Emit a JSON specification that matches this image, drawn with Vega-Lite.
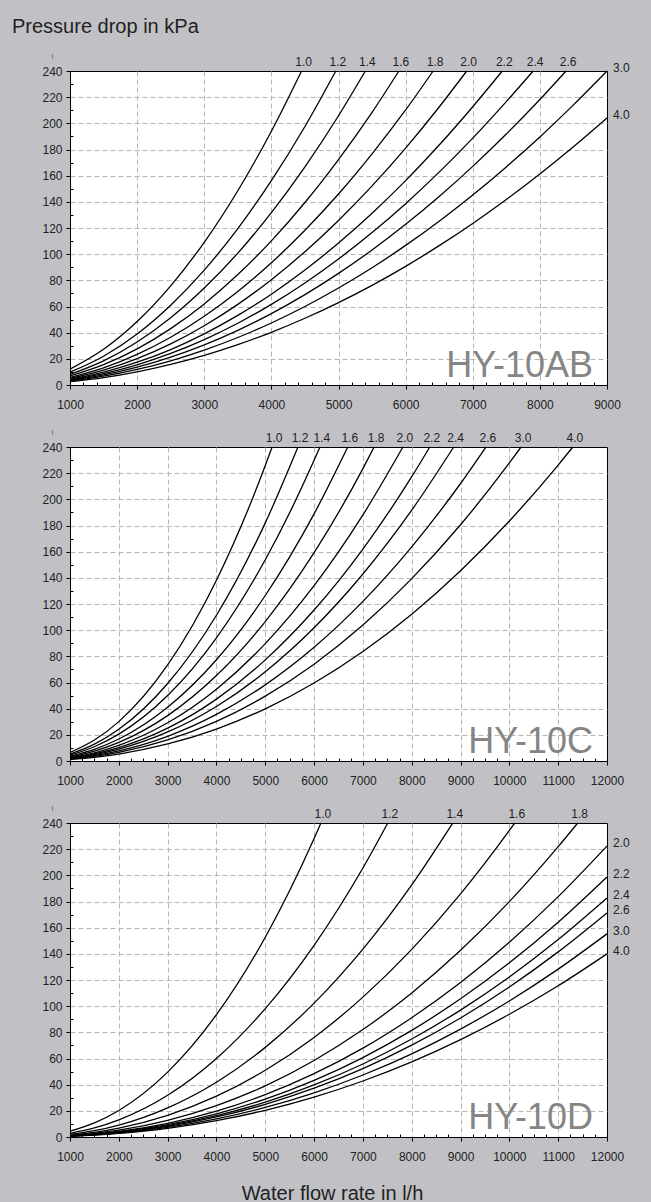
{
"$schema": "https://vega.github.io/schema/vega-lite/v6.json",
"background": "#c1c1c5",
"padding": {"left": 12, "top": 16, "right": 30, "bottom": 10},
"bounds": "flush",
"spacing": 62,
"title": {"text": "Pressure drop in kPa", "anchor": "start", "frame": "group", "dx": -58, "offset": 15, "fontSize": 20, "fontWeight": "normal", "font": "Liberation Sans", "color": "#222"},
"config": {
  "font": "Liberation Sans",
  "view": {"fill": "white", "stroke": "#000", "strokeWidth": 1},
  "axis": {"labelFont": "Liberation Sans", "labelFontSize": 12, "labelColor": "#222", "domainColor": "#000", "tickColor": "#000", "gridColor": "#b5b5b5", "gridDash": [5, 3], "labelOverlap": false, "labelFlush": false},
  "axisX": {"labelPadding": 10},
  "axisY": {"labelPadding": 4, "title": "|", "titleAngle": 0, "titleFontSize": 6, "titleFontWeight": "normal", "titleColor": "#333", "titleX": -18, "titleY": -13, "titleAlign": "center", "titleBaseline": "bottom"}
},
"datasets": {
"ab": [
{"s":"1.0","q":1000,"dp":12.1},{"s":"1.0","q":1500,"dp":27.3},{"s":"1.0","q":2000,"dp":48.5},{"s":"1.0","q":2500,"dp":75.8},{"s":"1.0","q":3000,"dp":109.1},{"s":"1.0","q":3500,"dp":148.5},{"s":"1.0","q":4000,"dp":193.9},{"s":"1.0","q":4450,"dp":240},
{"s":"1.2","q":1000,"dp":9.8},{"s":"1.2","q":1500,"dp":22.0},{"s":"1.2","q":2000,"dp":39.0},{"s":"1.2","q":2500,"dp":61.0},{"s":"1.2","q":3000,"dp":87.8},{"s":"1.2","q":3500,"dp":119.6},{"s":"1.2","q":4000,"dp":156.2},{"s":"1.2","q":4500,"dp":197.6},{"s":"1.2","q":4960,"dp":240},
{"s":"1.4","q":1000,"dp":8.2},{"s":"1.4","q":1500,"dp":18.5},{"s":"1.4","q":2000,"dp":32.9},{"s":"1.4","q":2500,"dp":51.4},{"s":"1.4","q":3000,"dp":74.1},{"s":"1.4","q":3500,"dp":100.8},{"s":"1.4","q":4000,"dp":131.7},{"s":"1.4","q":4500,"dp":166.7},{"s":"1.4","q":5000,"dp":205.8},{"s":"1.4","q":5400,"dp":240},
{"s":"1.6","q":1000,"dp":6.9},{"s":"1.6","q":1500,"dp":15.5},{"s":"1.6","q":2000,"dp":27.6},{"s":"1.6","q":2500,"dp":43.1},{"s":"1.6","q":3000,"dp":62.0},{"s":"1.6","q":3500,"dp":84.4},{"s":"1.6","q":4000,"dp":110.2},{"s":"1.6","q":4500,"dp":139.5},{"s":"1.6","q":5000,"dp":172.3},{"s":"1.6","q":5500,"dp":208.4},{"s":"1.6","q":5900,"dp":240},
{"s":"1.8","q":1000,"dp":5.8},{"s":"1.8","q":1500,"dp":13.1},{"s":"1.8","q":2000,"dp":23.4},{"s":"1.8","q":2500,"dp":36.5},{"s":"1.8","q":3000,"dp":52.6},{"s":"1.8","q":3500,"dp":71.5},{"s":"1.8","q":4000,"dp":93.4},{"s":"1.8","q":4500,"dp":118.3},{"s":"1.8","q":5000,"dp":146.0},{"s":"1.8","q":5500,"dp":176.7},{"s":"1.8","q":6000,"dp":210.2},{"s":"1.8","q":6410,"dp":240},
{"s":"2.0","q":1000,"dp":5.0},{"s":"2.0","q":1500,"dp":11.3},{"s":"2.0","q":2000,"dp":20.1},{"s":"2.0","q":2500,"dp":31.4},{"s":"2.0","q":3000,"dp":45.3},{"s":"2.0","q":3500,"dp":61.6},{"s":"2.0","q":4000,"dp":80.5},{"s":"2.0","q":4500,"dp":101.9},{"s":"2.0","q":5000,"dp":125.8},{"s":"2.0","q":5500,"dp":152.2},{"s":"2.0","q":6000,"dp":181.1},{"s":"2.0","q":6500,"dp":212.5},{"s":"2.0","q":6910,"dp":240},
{"s":"2.2","q":1000,"dp":4.3},{"s":"2.2","q":1500,"dp":9.8},{"s":"2.2","q":2000,"dp":17.4},{"s":"2.2","q":2500,"dp":27.1},{"s":"2.2","q":3000,"dp":39.1},{"s":"2.2","q":3500,"dp":53.2},{"s":"2.2","q":4000,"dp":69.4},{"s":"2.2","q":4500,"dp":87.9},{"s":"2.2","q":5000,"dp":108.5},{"s":"2.2","q":5500,"dp":131.3},{"s":"2.2","q":6000,"dp":156.2},{"s":"2.2","q":6500,"dp":183.4},{"s":"2.2","q":7000,"dp":212.7},{"s":"2.2","q":7440,"dp":240},
{"s":"2.4","q":1000,"dp":3.9},{"s":"2.4","q":1500,"dp":8.7},{"s":"2.4","q":2000,"dp":15.4},{"s":"2.4","q":2500,"dp":24.1},{"s":"2.4","q":3000,"dp":34.7},{"s":"2.4","q":3500,"dp":47.2},{"s":"2.4","q":4000,"dp":61.6},{"s":"2.4","q":4500,"dp":78.0},{"s":"2.4","q":5000,"dp":96.3},{"s":"2.4","q":5500,"dp":116.5},{"s":"2.4","q":6000,"dp":138.6},{"s":"2.4","q":6500,"dp":162.7},{"s":"2.4","q":7000,"dp":188.7},{"s":"2.4","q":7500,"dp":216.6},{"s":"2.4","q":7900,"dp":240},
{"s":"2.6","q":1000,"dp":3.4},{"s":"2.6","q":1500,"dp":7.7},{"s":"2.6","q":2000,"dp":13.6},{"s":"2.6","q":2500,"dp":21.3},{"s":"2.6","q":3000,"dp":30.7},{"s":"2.6","q":3500,"dp":41.8},{"s":"2.6","q":4000,"dp":54.6},{"s":"2.6","q":4500,"dp":69.1},{"s":"2.6","q":5000,"dp":85.3},{"s":"2.6","q":5500,"dp":103.2},{"s":"2.6","q":6000,"dp":122.8},{"s":"2.6","q":6500,"dp":144.1},{"s":"2.6","q":7000,"dp":167.1},{"s":"2.6","q":7500,"dp":191.8},{"s":"2.6","q":8000,"dp":218.2},{"s":"2.6","q":8390,"dp":240},
{"s":"3.0","q":1000,"dp":3.0},{"s":"3.0","q":1500,"dp":6.7},{"s":"3.0","q":2000,"dp":11.9},{"s":"3.0","q":2500,"dp":18.5},{"s":"3.0","q":3000,"dp":26.7},{"s":"3.0","q":3500,"dp":36.3},{"s":"3.0","q":4000,"dp":47.4},{"s":"3.0","q":4500,"dp":60.0},{"s":"3.0","q":5000,"dp":74.1},{"s":"3.0","q":5500,"dp":89.6},{"s":"3.0","q":6000,"dp":106.7},{"s":"3.0","q":6500,"dp":125.2},{"s":"3.0","q":7000,"dp":145.2},{"s":"3.0","q":7500,"dp":166.7},{"s":"3.0","q":8000,"dp":189.6},{"s":"3.0","q":8500,"dp":214.1},{"s":"3.0","q":9000,"dp":240},
{"s":"4.0","q":1000,"dp":2.5},{"s":"4.0","q":1500,"dp":5.7},{"s":"4.0","q":2000,"dp":10.1},{"s":"4.0","q":2500,"dp":15.8},{"s":"4.0","q":3000,"dp":22.7},{"s":"4.0","q":3500,"dp":30.9},{"s":"4.0","q":4000,"dp":40.3},{"s":"4.0","q":4500,"dp":51.0},{"s":"4.0","q":5000,"dp":63.0},{"s":"4.0","q":5500,"dp":76.2},{"s":"4.0","q":6000,"dp":90.7},{"s":"4.0","q":6500,"dp":106.5},{"s":"4.0","q":7000,"dp":123.5},{"s":"4.0","q":7500,"dp":141.8},{"s":"4.0","q":8000,"dp":161.3},{"s":"4.0","q":8500,"dp":182.1},{"s":"4.0","q":9000,"dp":204.1}
],
"c": [
{"s":"1.0","q":1000,"dp":6.5},{"s":"1.0","q":1500,"dp":16.0},{"s":"1.0","q":2000,"dp":30.1},{"s":"1.0","q":3000,"dp":73.4},{"s":"1.0","q":4000,"dp":138.2},{"s":"1.0","q":5000,"dp":225.8},{"s":"1.0","q":5140,"dp":240},
{"s":"1.2","q":1000,"dp":5.3},{"s":"1.2","q":1500,"dp":12.9},{"s":"1.2","q":2000,"dp":24.2},{"s":"1.2","q":3000,"dp":59.2},{"s":"1.2","q":4000,"dp":111.4},{"s":"1.2","q":5000,"dp":182.0},{"s":"1.2","q":5670,"dp":240},
{"s":"1.4","q":1000,"dp":4.5},{"s":"1.4","q":1500,"dp":10.9},{"s":"1.4","q":2000,"dp":20.5},{"s":"1.4","q":3000,"dp":50.0},{"s":"1.4","q":4000,"dp":94.2},{"s":"1.4","q":5000,"dp":153.8},{"s":"1.4","q":6000,"dp":229.8},{"s":"1.4","q":6120,"dp":240},
{"s":"1.6","q":1000,"dp":3.7},{"s":"1.6","q":1500,"dp":8.9},{"s":"1.6","q":2000,"dp":16.8},{"s":"1.6","q":3000,"dp":41.1},{"s":"1.6","q":4000,"dp":77.4},{"s":"1.6","q":5000,"dp":126.5},{"s":"1.6","q":6000,"dp":188.9},{"s":"1.6","q":6690,"dp":240},
{"s":"1.8","q":1000,"dp":3.1},{"s":"1.8","q":1500,"dp":7.5},{"s":"1.8","q":2000,"dp":14.2},{"s":"1.8","q":3000,"dp":34.7},{"s":"1.8","q":4000,"dp":65.3},{"s":"1.8","q":5000,"dp":106.6},{"s":"1.8","q":6000,"dp":159.2},{"s":"1.8","q":7000,"dp":223.5},{"s":"1.8","q":7230,"dp":240},
{"s":"2.0","q":1000,"dp":2.6},{"s":"2.0","q":1500,"dp":6.3},{"s":"2.0","q":2000,"dp":12.0},{"s":"2.0","q":3000,"dp":29.2},{"s":"2.0","q":4000,"dp":54.9},{"s":"2.0","q":5000,"dp":89.7},{"s":"2.0","q":6000,"dp":134.0},{"s":"2.0","q":7000,"dp":188.1},{"s":"2.0","q":7820,"dp":240},
{"s":"2.2","q":1000,"dp":2.2},{"s":"2.2","q":1500,"dp":5.5},{"s":"2.2","q":2000,"dp":10.3},{"s":"2.2","q":3000,"dp":25.1},{"s":"2.2","q":4000,"dp":47.3},{"s":"2.2","q":5000,"dp":77.3},{"s":"2.2","q":6000,"dp":115.4},{"s":"2.2","q":7000,"dp":162.0},{"s":"2.2","q":8000,"dp":217.3},{"s":"2.2","q":8370,"dp":240},
{"s":"2.4","q":1000,"dp":2.0},{"s":"2.4","q":1500,"dp":4.8},{"s":"2.4","q":2000,"dp":9.1},{"s":"2.4","q":3000,"dp":22.2},{"s":"2.4","q":4000,"dp":41.7},{"s":"2.4","q":5000,"dp":68.2},{"s":"2.4","q":6000,"dp":101.8},{"s":"2.4","q":7000,"dp":142.9},{"s":"2.4","q":8000,"dp":191.7},{"s":"2.4","q":8860,"dp":240},
{"s":"2.6","q":1000,"dp":1.7},{"s":"2.6","q":1500,"dp":4.1},{"s":"2.6","q":2000,"dp":7.8},{"s":"2.6","q":3000,"dp":18.9},{"s":"2.6","q":4000,"dp":35.6},{"s":"2.6","q":5000,"dp":58.2},{"s":"2.6","q":6000,"dp":86.9},{"s":"2.6","q":7000,"dp":122.0},{"s":"2.6","q":8000,"dp":163.7},{"s":"2.6","q":9000,"dp":212.1},{"s":"2.6","q":9520,"dp":240},
{"s":"3.0","q":1000,"dp":1.4},{"s":"3.0","q":1500,"dp":3.5},{"s":"3.0","q":2000,"dp":6.6},{"s":"3.0","q":3000,"dp":16.1},{"s":"3.0","q":4000,"dp":30.3},{"s":"3.0","q":5000,"dp":49.6},{"s":"3.0","q":6000,"dp":74.0},{"s":"3.0","q":7000,"dp":103.9},{"s":"3.0","q":8000,"dp":139.4},{"s":"3.0","q":9000,"dp":180.6},{"s":"3.0","q":10000,"dp":227.8},{"s":"3.0","q":10240,"dp":240},
{"s":"4.0","q":1000,"dp":1.2},{"s":"4.0","q":1500,"dp":2.8},{"s":"4.0","q":2000,"dp":5.3},{"s":"4.0","q":3000,"dp":13.0},{"s":"4.0","q":4000,"dp":24.4},{"s":"4.0","q":5000,"dp":39.9},{"s":"4.0","q":6000,"dp":59.6},{"s":"4.0","q":7000,"dp":83.7},{"s":"4.0","q":8000,"dp":112.2},{"s":"4.0","q":9000,"dp":145.4},{"s":"4.0","q":10000,"dp":183.4},{"s":"4.0","q":11000,"dp":226.2},{"s":"4.0","q":11300,"dp":240}
],
"d": [
{"s":"1.0","q":1000,"dp":4.4},{"s":"1.0","q":1500,"dp":10.8},{"s":"1.0","q":2000,"dp":20.3},{"s":"1.0","q":3000,"dp":49.6},{"s":"1.0","q":4000,"dp":93.5},{"s":"1.0","q":5000,"dp":152.7},{"s":"1.0","q":6000,"dp":228.1},{"s":"1.0","q":6140,"dp":240},
{"s":"1.2","q":1000,"dp":2.8},{"s":"1.2","q":1500,"dp":6.9},{"s":"1.2","q":2000,"dp":13.1},{"s":"1.2","q":3000,"dp":31.9},{"s":"1.2","q":4000,"dp":60.0},{"s":"1.2","q":5000,"dp":98.1},{"s":"1.2","q":6000,"dp":146.5},{"s":"1.2","q":7000,"dp":205.6},{"s":"1.2","q":7510,"dp":240},
{"s":"1.4","q":1000,"dp":2.0},{"s":"1.4","q":1500,"dp":4.8},{"s":"1.4","q":2000,"dp":9.1},{"s":"1.4","q":3000,"dp":22.3},{"s":"1.4","q":4000,"dp":41.9},{"s":"1.4","q":5000,"dp":68.5},{"s":"1.4","q":6000,"dp":102.3},{"s":"1.4","q":7000,"dp":143.6},{"s":"1.4","q":8000,"dp":192.7},{"s":"1.4","q":8840,"dp":240},
{"s":"1.6","q":1000,"dp":1.5},{"s":"1.6","q":1500,"dp":3.6},{"s":"1.6","q":2000,"dp":6.8},{"s":"1.6","q":3000,"dp":16.6},{"s":"1.6","q":4000,"dp":31.2},{"s":"1.6","q":5000,"dp":51.0},{"s":"1.6","q":6000,"dp":76.1},{"s":"1.6","q":7000,"dp":106.9},{"s":"1.6","q":8000,"dp":143.4},{"s":"1.6","q":9000,"dp":185.8},{"s":"1.6","q":10000,"dp":234.3},{"s":"1.6","q":10110,"dp":240},
{"s":"1.8","q":1000,"dp":1.1},{"s":"1.8","q":1500,"dp":2.8},{"s":"1.8","q":2000,"dp":5.2},{"s":"1.8","q":3000,"dp":12.7},{"s":"1.8","q":4000,"dp":24.0},{"s":"1.8","q":5000,"dp":39.1},{"s":"1.8","q":6000,"dp":58.5},{"s":"1.8","q":7000,"dp":82.1},{"s":"1.8","q":8000,"dp":110.1},{"s":"1.8","q":9000,"dp":142.7},{"s":"1.8","q":10000,"dp":179.9},{"s":"1.8","q":11000,"dp":221.9},{"s":"1.8","q":11400,"dp":240},
{"s":"2.0","q":1000,"dp":0.9},{"s":"2.0","q":1500,"dp":2.3},{"s":"2.0","q":2000,"dp":4.3},{"s":"2.0","q":3000,"dp":10.5},{"s":"2.0","q":4000,"dp":19.8},{"s":"2.0","q":5000,"dp":32.4},{"s":"2.0","q":6000,"dp":48.4},{"s":"2.0","q":7000,"dp":67.9},{"s":"2.0","q":8000,"dp":91.2},{"s":"2.0","q":9000,"dp":118.1},{"s":"2.0","q":10000,"dp":148.9},{"s":"2.0","q":11000,"dp":183.7},{"s":"2.0","q":12000,"dp":222.4},
{"s":"2.2","q":1000,"dp":0.8},{"s":"2.2","q":1500,"dp":2.0},{"s":"2.2","q":2000,"dp":3.9},{"s":"2.2","q":3000,"dp":9.4},{"s":"2.2","q":4000,"dp":17.7},{"s":"2.2","q":5000,"dp":29.0},{"s":"2.2","q":6000,"dp":43.3},{"s":"2.2","q":7000,"dp":60.7},{"s":"2.2","q":8000,"dp":81.5},{"s":"2.2","q":9000,"dp":105.6},{"s":"2.2","q":10000,"dp":133.1},{"s":"2.2","q":11000,"dp":164.2},{"s":"2.2","q":12000,"dp":198.8},
{"s":"2.4","q":1000,"dp":0.8},{"s":"2.4","q":1500,"dp":1.9},{"s":"2.4","q":2000,"dp":3.5},{"s":"2.4","q":3000,"dp":8.7},{"s":"2.4","q":4000,"dp":16.3},{"s":"2.4","q":5000,"dp":26.6},{"s":"2.4","q":6000,"dp":39.8},{"s":"2.4","q":7000,"dp":55.8},{"s":"2.4","q":8000,"dp":74.9},{"s":"2.4","q":9000,"dp":97.0},{"s":"2.4","q":10000,"dp":122.3},{"s":"2.4","q":11000,"dp":150.9},{"s":"2.4","q":12000,"dp":182.7},
{"s":"2.6","q":1000,"dp":0.7},{"s":"2.6","q":1500,"dp":1.8},{"s":"2.6","q":2000,"dp":3.3},{"s":"2.6","q":3000,"dp":8.1},{"s":"2.6","q":4000,"dp":15.3},{"s":"2.6","q":5000,"dp":25.0},{"s":"2.6","q":6000,"dp":37.3},{"s":"2.6","q":7000,"dp":52.3},{"s":"2.6","q":8000,"dp":70.2},{"s":"2.6","q":9000,"dp":91.0},{"s":"2.6","q":10000,"dp":114.7},{"s":"2.6","q":11000,"dp":141.5},{"s":"2.6","q":12000,"dp":171.3},
{"s":"3.0","q":1000,"dp":0.7},{"s":"3.0","q":1500,"dp":1.6},{"s":"3.0","q":2000,"dp":3.0},{"s":"3.0","q":3000,"dp":7.4},{"s":"3.0","q":4000,"dp":13.9},{"s":"3.0","q":5000,"dp":22.6},{"s":"3.0","q":6000,"dp":33.8},{"s":"3.0","q":7000,"dp":47.4},{"s":"3.0","q":8000,"dp":63.6},{"s":"3.0","q":9000,"dp":82.5},{"s":"3.0","q":10000,"dp":104.0},{"s":"3.0","q":11000,"dp":128.3},{"s":"3.0","q":12000,"dp":155.3},
{"s":"4.0","q":1000,"dp":0.6},{"s":"4.0","q":1500,"dp":1.4},{"s":"4.0","q":2000,"dp":2.7},{"s":"4.0","q":3000,"dp":6.6},{"s":"4.0","q":4000,"dp":12.5},{"s":"4.0","q":5000,"dp":20.4},{"s":"4.0","q":6000,"dp":30.5},{"s":"4.0","q":7000,"dp":42.8},{"s":"4.0","q":8000,"dp":57.4},{"s":"4.0","q":9000,"dp":74.4},{"s":"4.0","q":10000,"dp":93.8},{"s":"4.0","q":11000,"dp":115.6},{"s":"4.0","q":12000,"dp":140.0}
]
},
"vconcat": [
{
 "width": 537, "height": 314,
 "data": {"name": "ab"},
 "layer": [
  {"mark": {"type": "line", "color": "#000", "strokeWidth": 1.3, "interpolate": "monotone"},
   "encoding": {
    "x": {"field": "q", "type": "quantitative", "scale": {"domain": [1000, 9000], "nice": false, "zero": false},
     "axis": {"title": null, "format": "d", "tickCount": 500, "labelOverlap": false, "labelFlush": false, "labelBound": false, "values": [1000,1200,1400,1600,1800,2000,2200,2400,2600,2800,3000,3200,3400,3600,3800,4000,4200,4400,4600,4800,5000,5200,5400,5600,5800,6000,6200,6400,6600,6800,7000,7200,7400,7600,7800,8000,8200,8400,8600,8800,9000],
      "labelExpr": "datum.value % 1000 === 0 ? datum.label : ''",
      "tickSize": {"condition": {"test": "datum.value % 1000 === 0", "value": 4}, "value": -3},
      "gridOpacity": {"condition": {"test": "datum.value % 1000 === 0 && datum.value > 1000 && datum.value < 9000", "value": 1}, "value": 0}}},
    "y": {"field": "dp", "type": "quantitative", "scale": {"domain": [0, 240], "nice": false},
     "axis": {"title": "|", "format": "d", "tickCount": 500, "labelOverlap": false, "labelFlush": false, "labelBound": false, "values": [0,10,20,30,40,50,60,70,80,90,100,110,120,130,140,150,160,170,180,190,200,210,220,230,240],
      "labelExpr": "datum.value % 20 === 0 ? datum.label : ''",
      "tickSize": {"condition": {"test": "datum.value % 20 === 0", "value": 4}, "value": -3},
      "gridOpacity": {"condition": {"test": "datum.value % 20 === 0 && datum.value > 0 && datum.value < 240", "value": 1}, "value": 0}}},
    "detail": {"field": "s"}
   }},
  {"transform": [{"aggregate": [{"op": "argmax", "field": "q", "as": "e"}], "groupby": ["s"]}, {"filter": "datum.e.q < 9000"}],
   "mark": {"type": "text", "baseline": "alphabetic", "align": "center", "dx": 2, "dy": -5, "fontSize": 12, "color": "#222"},
   "encoding": {"x": {"field": "e.q", "type": "quantitative"}, "y": {"field": "e.dp", "type": "quantitative"}, "text": {"field": "s"}}},
  {"transform": [{"aggregate": [{"op": "argmax", "field": "q", "as": "e"}], "groupby": ["s"]}, {"filter": "datum.e.q >= 9000"}],
   "mark": {"type": "text", "baseline": "middle", "align": "left", "dx": 6, "dy": -3, "fontSize": 12, "color": "#222"},
   "encoding": {"x": {"field": "e.q", "type": "quantitative"}, "y": {"field": "e.dp", "type": "quantitative"}, "text": {"field": "s"}}},
  {"data": {"values": [{"m": "HY-10AB"}]},
   "mark": {"type": "text", "align": "right", "baseline": "alphabetic", "dx": -14, "dy": -8, "fontSize": 36, "color": "#858585"},
   "encoding": {"x": {"datum": 9000}, "y": {"datum": 0}, "text": {"field": "m"}}}
 ]
},
{
 "width": 537, "height": 314,
 "data": {"name": "c"},
 "layer": [
  {"mark": {"type": "line", "color": "#000", "strokeWidth": 1.3, "interpolate": "monotone"},
   "encoding": {
    "x": {"field": "q", "type": "quantitative", "scale": {"domain": [1000, 12000], "nice": false, "zero": false},
     "axis": {"title": null, "format": "d", "tickCount": 500, "labelOverlap": false, "labelFlush": false, "labelBound": false, "values": [1000,1250,1500,1750,2000,2250,2500,2750,3000,3250,3500,3750,4000,4250,4500,4750,5000,5250,5500,5750,6000,6250,6500,6750,7000,7250,7500,7750,8000,8250,8500,8750,9000,9250,9500,9750,10000,10250,10500,10750,11000,11250,11500,11750,12000],
      "labelExpr": "datum.value % 1000 === 0 ? datum.label : ''",
      "tickSize": {"condition": {"test": "datum.value % 1000 === 0", "value": 4}, "value": -3},
      "gridOpacity": {"condition": {"test": "datum.value % 1000 === 0 && datum.value > 1000 && datum.value < 12000", "value": 1}, "value": 0}}},
    "y": {"field": "dp", "type": "quantitative", "scale": {"domain": [0, 240], "nice": false},
     "axis": {"title": "|", "format": "d", "tickCount": 500, "labelOverlap": false, "labelFlush": false, "labelBound": false, "values": [0,10,20,30,40,50,60,70,80,90,100,110,120,130,140,150,160,170,180,190,200,210,220,230,240],
      "labelExpr": "datum.value % 20 === 0 ? datum.label : ''",
      "tickSize": {"condition": {"test": "datum.value % 20 === 0", "value": 4}, "value": -3},
      "gridOpacity": {"condition": {"test": "datum.value % 20 === 0 && datum.value > 0 && datum.value < 240", "value": 1}, "value": 0}}},
    "detail": {"field": "s"}
   }},
  {"transform": [{"aggregate": [{"op": "argmax", "field": "q", "as": "e"}], "groupby": ["s"]}, {"filter": "datum.e.q < 12000"}],
   "mark": {"type": "text", "baseline": "alphabetic", "align": "center", "dx": 2, "dy": -5, "fontSize": 12, "color": "#222"},
   "encoding": {"x": {"field": "e.q", "type": "quantitative"}, "y": {"field": "e.dp", "type": "quantitative"}, "text": {"field": "s"}}},
  {"data": {"values": [{"m": "HY-10C"}]},
   "mark": {"type": "text", "align": "right", "baseline": "alphabetic", "dx": -14, "dy": -8, "fontSize": 36, "color": "#858585"},
   "encoding": {"x": {"datum": 12000}, "y": {"datum": 0}, "text": {"field": "m"}}}
 ]
},
{
 "width": 537, "height": 314,
 "data": {"name": "d"},
 "layer": [
  {"mark": {"type": "line", "color": "#000", "strokeWidth": 1.3, "interpolate": "monotone"},
   "encoding": {
    "x": {"field": "q", "type": "quantitative", "scale": {"domain": [1000, 12000], "nice": false, "zero": false},
     "axis": {"title": "Water flow rate in l/h", "titleFontSize": 20, "titleFontWeight": "normal", "titleColor": "#222", "titleBaseline": "alphabetic", "titleX": 262, "titleY": 62, "titleAlign": "center",
      "format": "d", "tickCount": 500, "labelOverlap": false, "labelFlush": false, "labelBound": false, "values": [1000,1250,1500,1750,2000,2250,2500,2750,3000,3250,3500,3750,4000,4250,4500,4750,5000,5250,5500,5750,6000,6250,6500,6750,7000,7250,7500,7750,8000,8250,8500,8750,9000,9250,9500,9750,10000,10250,10500,10750,11000,11250,11500,11750,12000],
      "labelExpr": "datum.value % 1000 === 0 ? datum.label : ''",
      "tickSize": {"condition": {"test": "datum.value % 1000 === 0", "value": 4}, "value": -3},
      "gridOpacity": {"condition": {"test": "datum.value % 1000 === 0 && datum.value > 1000 && datum.value < 12000", "value": 1}, "value": 0}}},
    "y": {"field": "dp", "type": "quantitative", "scale": {"domain": [0, 240], "nice": false},
     "axis": {"title": "|", "format": "d", "tickCount": 500, "labelOverlap": false, "labelFlush": false, "labelBound": false, "values": [0,10,20,30,40,50,60,70,80,90,100,110,120,130,140,150,160,170,180,190,200,210,220,230,240],
      "labelExpr": "datum.value % 20 === 0 ? datum.label : ''",
      "tickSize": {"condition": {"test": "datum.value % 20 === 0", "value": 4}, "value": -3},
      "gridOpacity": {"condition": {"test": "datum.value % 20 === 0 && datum.value > 0 && datum.value < 240", "value": 1}, "value": 0}}},
    "detail": {"field": "s"}
   }},
  {"transform": [{"aggregate": [{"op": "argmax", "field": "q", "as": "e"}], "groupby": ["s"]}, {"filter": "datum.e.q < 12000"}],
   "mark": {"type": "text", "baseline": "alphabetic", "align": "center", "dx": 2, "dy": -5, "fontSize": 12, "color": "#222"},
   "encoding": {"x": {"field": "e.q", "type": "quantitative"}, "y": {"field": "e.dp", "type": "quantitative"}, "text": {"field": "s"}}},
  {"transform": [{"aggregate": [{"op": "argmax", "field": "q", "as": "e"}], "groupby": ["s"]}, {"filter": "datum.e.q >= 12000"}],
   "mark": {"type": "text", "baseline": "middle", "align": "left", "dx": 6, "dy": -3, "fontSize": 12, "color": "#222"},
   "encoding": {"x": {"field": "e.q", "type": "quantitative"}, "y": {"field": "e.dp", "type": "quantitative"}, "text": {"field": "s"}}},
  {"data": {"values": [{"m": "HY-10D"}]},
   "mark": {"type": "text", "align": "right", "baseline": "alphabetic", "dx": -14, "dy": -8, "fontSize": 36, "color": "#858585"},
   "encoding": {"x": {"datum": 12000}, "y": {"datum": 0}, "text": {"field": "m"}}}
 ]
}
]
}
